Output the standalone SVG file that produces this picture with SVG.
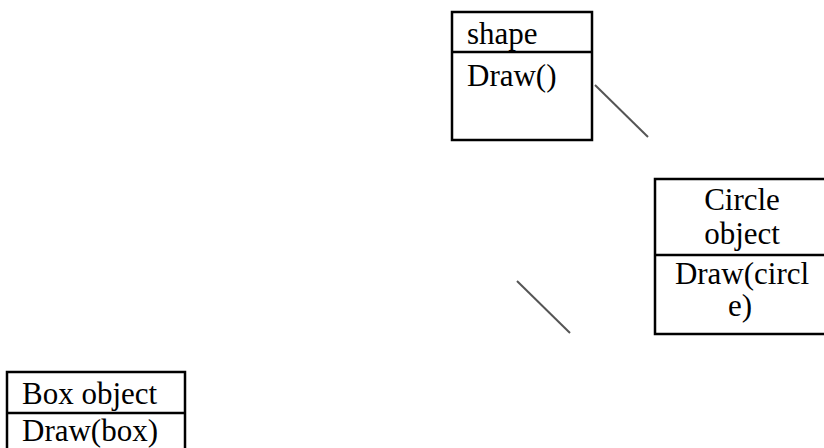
<svg xmlns="http://www.w3.org/2000/svg" width="824" height="448" viewBox="0 0 824 448">
<style>
.box{fill:#fff;stroke:#000;stroke-width:2.5}
.div{stroke:#000;stroke-width:2.5}
.t{font-family:"Liberation Serif","Times New Roman",serif;font-size:31px;fill:#000}
.c{text-anchor:middle}
.conn{stroke:#555;stroke-width:2;fill:none}
</style>
<rect width="824" height="448" fill="#fff"/>
<g id="shape">
<rect class="box" x="452" y="12" width="140" height="128"/>
<line class="div" x1="452" y1="52" x2="592" y2="52"/>
<text class="t" x="467" y="44">shape</text>
<text class="t" x="467" y="86">Draw()</text>
</g>
<g id="circle">
<rect class="box" x="655" y="179" width="176" height="155"/>
<line class="div" x1="655" y1="255" x2="831" y2="255"/>
<text class="t c" x="742" y="210">Circle</text>
<text class="t c" x="742" y="244">object</text>
<text class="t c" x="742" y="284">Draw(circl</text>
<text class="t c" x="740" y="316">e)</text>
</g>
<g id="box">
<rect class="box" x="7" y="372" width="178" height="90"/>
<line class="div" x1="7" y1="413" x2="185" y2="413"/>
<text class="t" x="22" y="404">Box object</text>
<text class="t" x="22" y="441">Draw(box)</text>
</g>
<g id="connectors">
<line class="conn" x1="595" y1="85" x2="648" y2="137"/>
<line class="conn" x1="517" y1="281" x2="570" y2="333"/>
</g>
</svg>
